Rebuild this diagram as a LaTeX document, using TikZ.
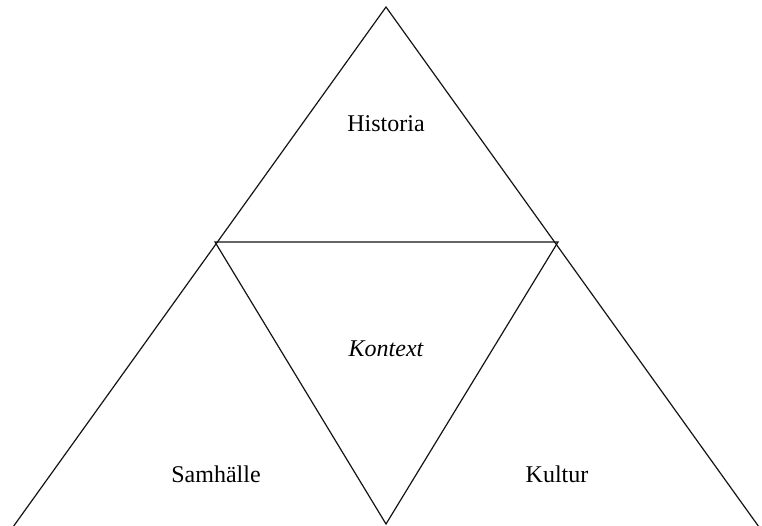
\documentclass[tikz,border=0pt]{standalone}
\usepackage{fontspec}
\setmainfont{Liberation Serif}
\usepackage{tikz}
\usetikzlibrary{positioning,calc}
\definecolor{linegray}{RGB}{20,20,20}
\tikzset{
  side/.style={draw=linegray, line width=0.9pt, line join=miter},
  field/.style={font=\fontsize{18}{21}\selectfont, inner sep=2pt}
}
\begin{document}
\begin{tikzpicture}[x=0.75pt, y=-0.75pt]
        \useasboundingbox (0,0) rectangle (762,525);
        \coordinate (apex) at (386,7);
        \coordinate (left) at (13,527);
        \coordinate (right) at (759,527);
        \coordinate (midL) at (215,242);
        \coordinate (midR) at (558,242);
        \coordinate (midB) at (386,524);
        \draw[side] (left) -- (apex) -- (right);
        \draw[side] (midL) -- (midR) -- (midB) -- cycle;
        \node[field] (hist) at (386,124) {Historia};
        \node[field, font=\fontsize{18}{21}\selectfont\itshape] (kont) at (386,349) {Kontext};
        \node[field] (samh) at (216,474) {Samhälle};
        \node[field] (kult) at (557,474) {Kultur};
      \end{tikzpicture}
\end{document}
